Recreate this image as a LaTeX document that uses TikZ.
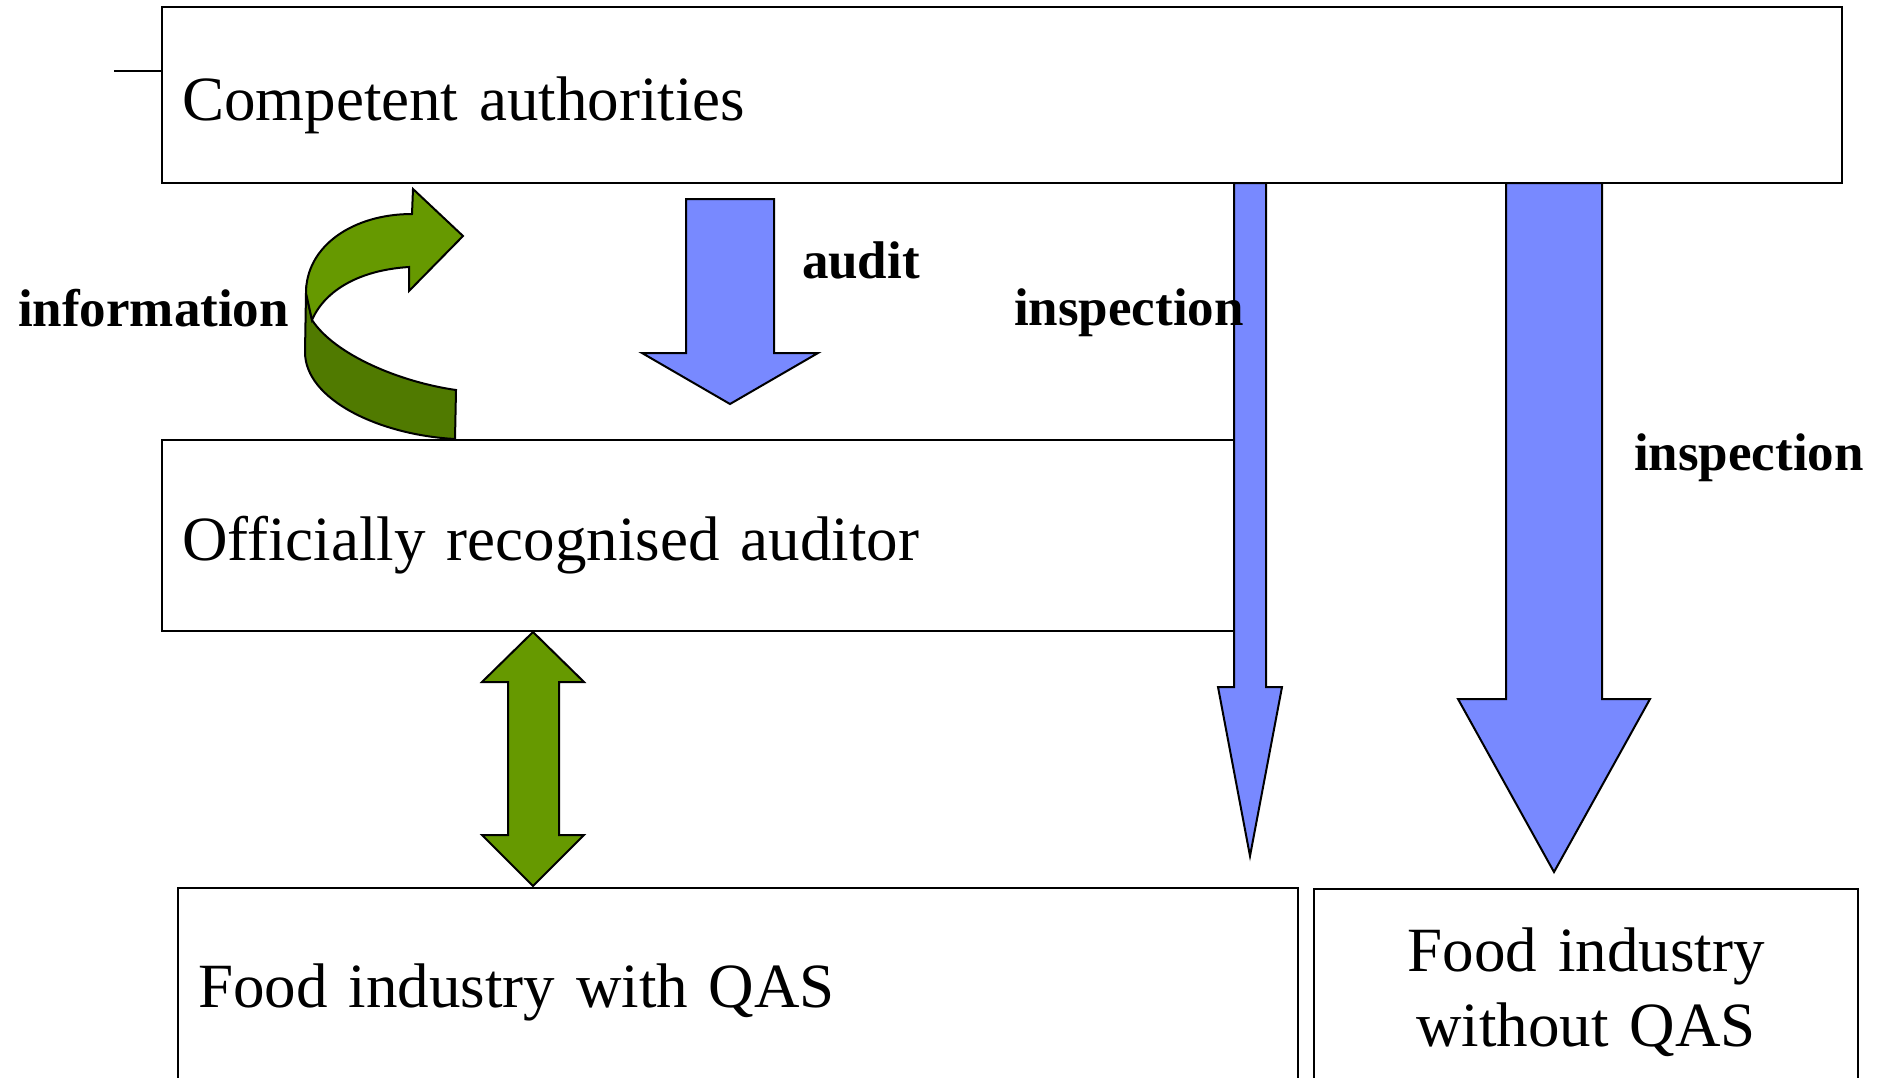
\documentclass[tikz,border=0pt]{standalone}
\usepackage{fontspec}
\setmainfont{Liberation Serif}
\usetikzlibrary{positioning}
\definecolor{arrowblue}{RGB}{120,137,255}
\definecolor{ribbonlight}{RGB}{102,153,0}
\definecolor{ribbondark}{RGB}{80,122,0}

\begin{document}
\begin{tikzpicture}
[x=1pt,y=-1pt,
 box/.style={draw=black,line width=2pt,anchor=north west,inner ysep=0pt,inner xsep=20pt,outer sep=0pt,
             align=left,text height=64pt,text depth=14pt,font=\fontsize{63}{75}\selectfont},
 tag/.style={anchor=base west,inner sep=0pt,outer sep=0pt,font=\fontsize{53}{60}\selectfont\bfseries},
 bluearrow/.style={draw=black,line width=2pt,fill=arrowblue},
 greenarrow/.style={draw=black,line width=2pt,fill=ribbonlight},
 line join=miter]
\useasboundingbox (0,0) rectangle (1879,1077);
\node[box,minimum width=1680pt,minimum height=176pt,text width=1640pt] (ca)  at (162,7)   {Competent authorities};
\node[box,minimum width=1072pt,minimum height=191pt,text width=1032pt] (ora) at (162,440) {Officially recognised auditor};
\node[box,minimum width=1120pt,minimum height=200pt,text width=1080pt,text height=52pt] (fq)  at (178,888) {Food industry with QAS};
\node[box,minimum width=544pt,minimum height=200pt,text width=504pt,align=center,text height=44pt,text depth=80pt] (fnq) at (1314,889) {Food industry\\without QAS};
\coordinate (stub) at (114,71);
\draw[line width=2pt] (stub) -- (stub -| ca.west);
% block arrows
\draw[bluearrow] (686,199) -- (686,353) -- (642,353) -- (730,404) -- (818,353) -- (774,353) -- (774,199) -- cycle;
\draw[bluearrow] (1234,183) -- (1234,687) -- (1218,687) -- (1250,856) -- (1282,687) -- (1266,687) -- (1266,183) -- cycle;
\draw[bluearrow] (1506,183) -- (1506,699) -- (1458,699) -- (1554,872) -- (1650,699) -- (1602,699) -- (1602,183) -- cycle;
\draw[greenarrow] (533,632) -- (584,682) -- (559,682) -- (559,835) -- (584,835) -- (533,886)
  -- (482,835) -- (508,835) -- (508,682) -- (482,682) -- cycle;
% twisted arrow
\draw[greenarrow,fill=ribbondark] (306,293) -- (305,352) .. controls (305,400) and (380,435) .. (455,439)
  -- (456,390) .. controls (400,382) and (335,355) .. (312,320) -- cycle;
\draw[greenarrow] (412,214) .. controls (353,214) and (306,246) .. (306,293) -- (312,320)
  .. controls (325,290) and (360,270) .. (409,267) -- (409,291) -- (463,236) -- (413,189) -- cycle;
% labels
\node[tag] (info)  at (18,326)   {information};
\node[tag] (aud)   at (802,278)  {audit};
\node[tag] (insp1) at (1014,325) {inspection};
\node[tag] (insp2) at (1634,470) {inspection};
\end{tikzpicture}
\end{document}
